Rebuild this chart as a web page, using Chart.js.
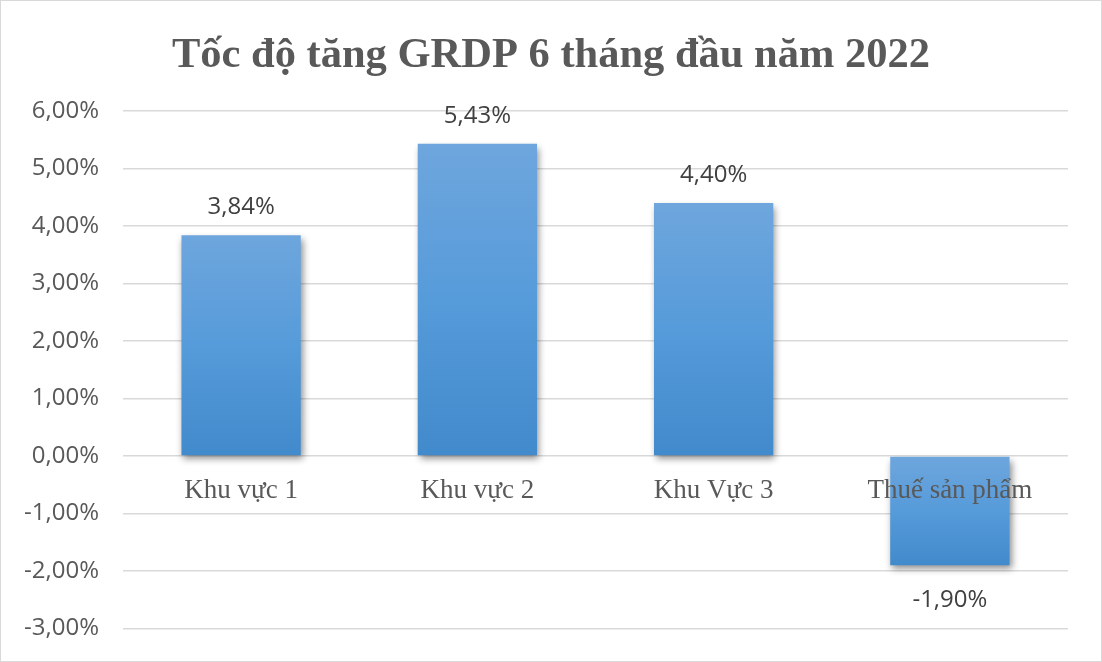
<!DOCTYPE html>
<html><head><meta charset="utf-8">
<script src="https://cdn.jsdelivr.net/npm/chart.js@4"></script>
<style>
html,body{margin:0;padding:0;background:#fff;}
#wrap{position:absolute;left:0;top:0;width:1100px;height:660px;border:1px solid #d9d9d9;overflow:hidden;}
canvas{display:block;}
</style></head><body>
<div id="wrap"><canvas id="c" width="1100" height="666"></canvas></div>
<script>
const categories = ["Khu vực 1", "Khu vực 2", "Khu Vực 3", "Thuế sản phẩm"];
const values = [3.84, 5.43, 4.40, -1.90];
const titleText = "Tốc độ tăng GRDP 6 tháng đầu năm 2022";
const yMin = -3, yMax = 6, yStep = 1;

const fmt = v => v.toFixed(2).replace('.', ',') + '%';
const sansFont = '"Open Sans", "Liberation Sans", sans-serif';
const serifFont = '"Liberation Serif", "Times New Roman", serif';

const titlePlugin = {
  id: 'customTitle',
  afterDraw(chart) {
    const ctx = chart.ctx;
    ctx.save();
    ctx.font = 'bold 42.5px ' + serifFont;
    ctx.fillStyle = '#595959';
    ctx.textAlign = 'center';
    ctx.textBaseline = 'alphabetic';
    ctx.fillText(titleText, chart.width / 2, 66);
    ctx.restore();
  }
};

const shadowPlugin = {
  id: 'shadow',
  beforeDatasetsDraw(chart) {
    const ctx = chart.ctx;
    ctx.save();
    ctx.shadowColor = 'rgba(0,0,0,0.45)';
    ctx.shadowBlur = 7;
    ctx.shadowOffsetX = 2;
    ctx.shadowOffsetY = 4;
  },
  afterDatasetsDraw(chart) {
    chart.ctx.restore();
    const ctx = chart.ctx;
    const meta = chart.getDatasetMeta(0);
    ctx.save();
    ctx.font = '24px ' + sansFont;
    ctx.fillStyle = '#404040';
    ctx.textAlign = 'center';
    ctx.textBaseline = 'middle';
    meta.data.forEach((bar, i) => {
      const v = values[i];
      const y = v >= 0 ? bar.y - 28 : bar.y + 35;
      ctx.fillText(fmt(v), bar.x, y);
    });
    ctx.restore();
  }
};

const ctx = document.getElementById('c').getContext('2d');
new Chart(ctx, {
  type: 'bar',
  data: {
    labels: categories,
    datasets: [{
      data: values,
      backgroundColor: (c) => {
        const ch = c.chart;
        const ys = ch.scales && ch.scales.y;
        if (!ch.chartArea || !ys || c.raw === undefined) return '#5b9bd5';
        const p1 = ys.getPixelForValue(c.raw), p0 = ys.getPixelForValue(0);
        const top = Math.min(p0, p1), bot = Math.max(p0, p1);
        if (!isFinite(top) || !isFinite(bot) || top === bot) return '#5b9bd5';
        const g = ch.ctx.createLinearGradient(0, top, 0, bot);
        g.addColorStop(0, '#6ea6dd');
        g.addColorStop(0.5, '#569bda');
        g.addColorStop(1, '#418acb');
        return g;
      },
      borderWidth: 0,
      barPercentage: 0.505,
      categoryPercentage: 1.0
    }]
  },
  options: {
    responsive: false,
    animation: false,
    layout: { padding: { left: 0, right: 33, top: 110, bottom: 20 } },
    plugins: {
      legend: { display: false },
      tooltip: { enabled: false },
      title: { display: false }
    },
    scales: {
      x: {
        position: { y: 0 },
        afterFit: (s) => { s.height = 0; },
        grid: { display: false, drawTicks: false },
        border: { display: false },
        ticks: {
          z: 1,
          color: '#595959',
          font: { family: serifFont, size: 27 },
          padding: 19
        }
      },
      y: {
        min: yMin, max: yMax,
        afterFit: (s) => { s.width = 122; },
        grid: { color: '#d9d9d9', lineWidth: 1.5, drawTicks: false },
        border: { display: false },
        ticks: {
          stepSize: yStep,
          color: '#595959',
          font: { family: sansFont, size: 24 },
          padding: 24,
          callback: (v) => fmt(v)
        }
      }
    }
  },
  plugins: [shadowPlugin, titlePlugin]
});
</script>
</body></html>
